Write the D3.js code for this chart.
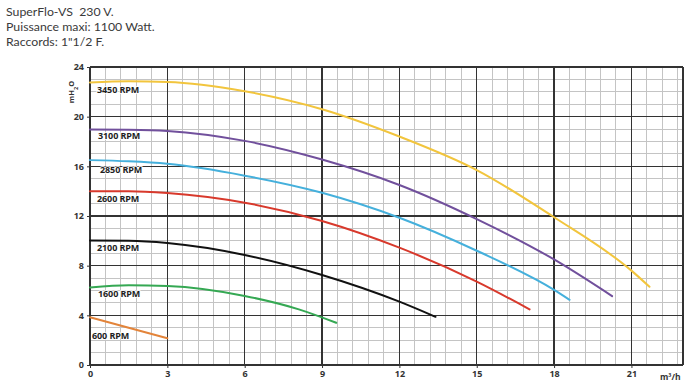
<!DOCTYPE html>
<html>
<head>
<meta charset="utf-8">
<script src="https://cdn.jsdelivr.net/npm/d3@7"></script>
<style>
  body { margin: 0; background: #fff; }
  svg { display: block; }
</style>
</head>
<body>
<svg id="chart"></svg>
<script>
// header lines
const titleLines = ["SuperFlo-VS  230 V.", "Puissance maxi: 1100 Watt.", "Raccords: 1\"1/2 F."];

// axis ticks
const xTicks = [0, 3, 6, 9, 12, 15, 18, 21];
const yTicks = [0, 4, 8, 12, 16, 20, 24];

// pump curves: flow (m3/h) and head (mH2O)
const rpmNames = ["3450 RPM", "3100 RPM", "2850 RPM", "2600 RPM", "2100 RPM", "1600 RPM", "600 RPM"];
const rpmColors = ["#f2c53d", "#71509c", "#45b0dc", "#d8392c", "#111111", "#35a853", "#e3843a"];

const flow3450 = [0, 1.5, 3, 6, 9, 12, 15, 18, 21, 21.7];
const head3450 = [22.75, 22.85, 22.8, 22.05, 20.6, 18.4, 15.7, 11.9, 7.6, 6.3];

const flow3100 = [0, 1.5, 3, 6, 9, 12, 15, 18, 20.25];
const head3100 = [18.97, 18.95, 18.85, 18.05, 16.55, 14.5, 11.75, 8.5, 5.55];

const flow2850 = [0, 1.5, 3, 6, 9, 12, 15, 18, 18.6];
const head2850 = [16.5, 16.4, 16.2, 15.25, 13.87, 11.86, 9.2, 6.05, 5.25];

const flow2600 = [0, 1.5, 3, 6, 9, 12, 15, 17.05];
const head2600 = [14.0, 14.0, 13.85, 13.07, 11.6, 9.45, 6.72, 4.48];

const flow2100 = [0, 1.5, 3, 6, 9, 12, 13.4];
const head2100 = [10.02, 10.0, 9.82, 8.86, 7.25, 5.1, 3.88];

const flow1600 = [0, 1.5, 3, 6, 8.1, 9.55];
const head1600 = [6.25, 6.42, 6.36, 5.56, 4.48, 3.4];

const flow600 = [0, 3];
const head600 = [3.85, 2.15];

const flows = [flow3450, flow3100, flow2850, flow2600, flow2100, flow1600, flow600];
const heads = [head3450, head3100, head2850, head2600, head2100, head1600, head600];

// ===============================
// SETUP
// ===============================
const width = 699, height = 392;
const margin = { top: 67, right: 16, bottom: 27, left: 90 };
const innerWidth = width - margin.left - margin.right;
const innerHeight = height - margin.top - margin.bottom;

const svg = d3.select("#chart").attr("width", width).attr("height", height);

const FONT = "'Open Sans', 'DejaVu Sans', sans-serif";

// header
svg.append("g")
  .selectAll("text")
  .data(titleLines)
  .join("text")
  .attr("x", 6)
  .attr("y", (d, i) => 16 + i * 15)
  .attr("font-family", "Lato, 'Open Sans', sans-serif")
  .attr("font-size", 12.3)
  .attr("fill", "#3a3a3a")
  .style("white-space", "pre")
  .text(d => d);

const g = svg.append("g")
  .attr("transform", `translate(${margin.left},${margin.top})`);

const x = d3.scaleLinear().domain([0, 23]).range([0, innerWidth]);
const y = d3.scaleLinear().domain([0, 24]).range([innerHeight, 0]);

// ===============================
// GRID
// ===============================
const minorX = d3.range(0, 23.01, 0.6).filter(v => Math.abs(v / 3 - Math.round(v / 3)) > 1e-6);
const minorY = d3.range(0, 24.01, 1).filter(v => v % 4 !== 0);

const grid = g.append("g").attr("shape-rendering", "crispEdges");

grid.selectAll(".minx").data(minorX).join("line")
  .attr("x1", d => x(d)).attr("x2", d => x(d))
  .attr("y1", 0).attr("y2", innerHeight)
  .attr("stroke", "#c4c4c4").attr("stroke-width", 1);

grid.selectAll(".miny").data(minorY).join("line")
  .attr("y1", d => y(d)).attr("y2", d => y(d))
  .attr("x1", 0).attr("x2", innerWidth)
  .attr("stroke", "#c4c4c4").attr("stroke-width", 1);

grid.selectAll(".majx").data(xTicks.concat([23])).join("line")
  .attr("x1", d => x(d)).attr("x2", d => x(d))
  .attr("y1", 0).attr("y2", innerHeight)
  .attr("stroke", "#333").attr("stroke-width", 1.3);

grid.selectAll(".majy").data(yTicks).join("line")
  .attr("y1", d => y(d)).attr("y2", d => y(d))
  .attr("x1", 0).attr("x2", innerWidth)
  .attr("stroke", "#333").attr("stroke-width", 1.3);

// ===============================
// AXES
// ===============================
const xAxis = g.append("g")
  .attr("transform", `translate(0,${innerHeight})`)
  .call(d3.axisBottom(x).tickValues(xTicks).tickSize(3).tickPadding(3));

const yAxis = g.append("g")
  .call(d3.axisLeft(y).tickValues(yTicks).tickSize(3).tickPadding(3));

[xAxis, yAxis].forEach(a => {
  a.select(".domain").remove();
  a.selectAll("line").attr("stroke", "#333");
  a.selectAll("text")
    .attr("font-family", FONT)
    .attr("font-weight", 700)
    .attr("font-size", 9)
    .attr("fill", "#333");
});

// units
svg.append("text")
  .attr("x", 660).attr("y", 380)
  .attr("font-family", FONT).attr("font-weight", 700)
  .attr("font-size", 8.5).attr("fill", "#333")
  .text("m³/h");

const yTitle = svg.append("text")
  .attr("transform", "translate(74,92) rotate(-90)")
  .attr("text-anchor", "middle")
  .attr("font-family", FONT).attr("font-weight", 700)
  .attr("font-size", 7.5).attr("fill", "#333");
yTitle.append("tspan").text("mH");
yTitle.append("tspan").attr("baseline-shift", "sub").attr("font-size", 5.5).text("2");
yTitle.append("tspan").text("O");

// ===============================
// CURVES
// ===============================
const line = d3.line()
  .x(d => x(d[0]))
  .y(d => y(d[1]))
  .curve(d3.curveMonotoneX);

const labelDy = [10, 10, 12.5, 11, 10.5, 10, 21.5];
const labelDx = [7, 8, 10, 7, 7, 8, 2];

rpmNames.forEach((name, i) => {
  const pts = flows[i].map((f, j) => [f, heads[i][j]]);

  g.append("path")
    .datum(pts)
    .attr("fill", "none")
    .attr("stroke", rpmColors[i])
    .attr("stroke-width", 2)
    .attr("stroke-linecap", "round")
    .attr("d", line);

  g.append("text")
    .attr("x", x(0) + labelDx[i])
    .attr("y", y(heads[i][0]) + labelDy[i])
    .attr("font-family", FONT)
    .attr("font-weight", 700)
    .attr("font-size", 9)
    .attr("letter-spacing", -0.1)
    .attr("fill", "#1e1e1e")
    .attr("stroke", "#fff")
    .attr("stroke-width", 2)
    .attr("stroke-opacity", 0.8)
    .attr("paint-order", "stroke")
    .text(name);
});
</script>
</body>
</html>
